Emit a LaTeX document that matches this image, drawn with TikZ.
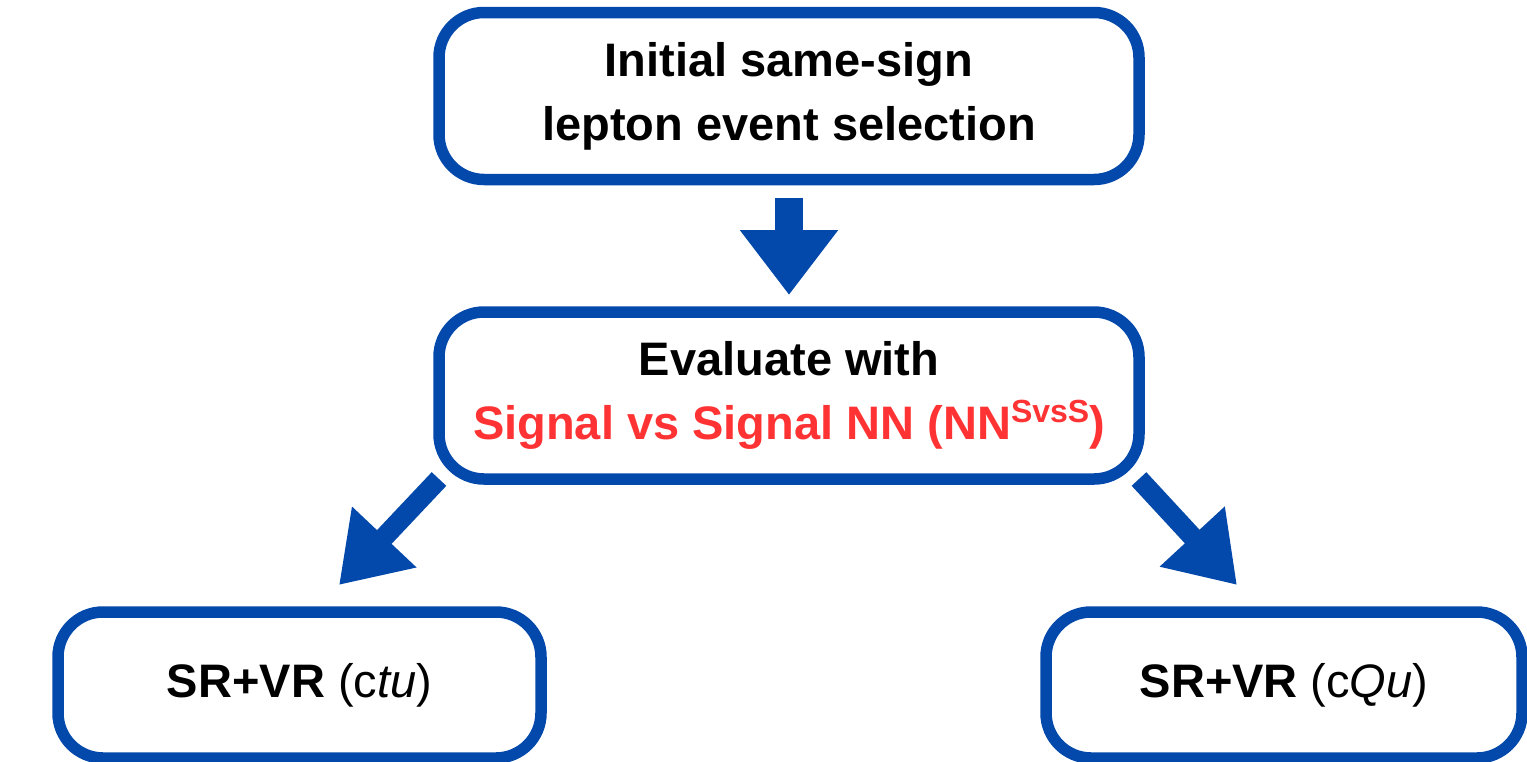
\documentclass[tikz,border=0pt]{standalone}
\usepackage{fontspec}
\setmainfont{Liberation Sans}
\usetikzlibrary{arrows.meta}
\definecolor{flowblue}{RGB}{3,72,171}
\definecolor{nnred}{RGB}{255,51,51}

\begin{document}
\begin{tikzpicture}[x=1pt,y=-1pt,
  stage/.style={draw=flowblue, line width=11.5pt, rounded corners=45pt,
    inner sep=0pt, outer sep=0pt, align=center,
    font=\fontsize{47}{64}\selectfont\bfseries},
  bigarrow/.style={draw=flowblue, line width=28pt,
    -{Triangle[length=65pt,width=94pt]}},
  diagarrow/.style={draw=flowblue, line width=20pt,
    -{Triangle[length=66pt,width=84pt]}}]
\useasboundingbox (0,0) rectangle (1527,761);

% stages of the selection flow
\node[stage, minimum width=700pt, minimum height=167pt] (init) at (789,96)
  {Initial same-sign\\lepton event selection};
\node[stage, minimum width=700pt, minimum height=167pt] (eval) at (789,395.5)
  {Evaluate with\\\textcolor{nnred}{Signal vs Signal NN (NN\raisebox{0.36em}{\fontsize{32}{32}\selectfont SvsS})}};
\node[stage, minimum width=483pt, minimum height=146pt] (ctu) at (299.5,685)
  {SR+VR \mdseries(c\textit{tu})};
\node[stage, minimum width=476pt, minimum height=146pt] (cqu) at (1284,685)
  {SR+VR \mdseries(c\textit{Qu})};

% arrow tips of the two branches
\coordinate (ltip) at (339,585);
\coordinate (rtip) at (1237,585);

% connectors
\draw[bigarrow, shorten <=18pt, shorten >=17pt] (init.south) -- (eval.north);
\draw[diagarrow] (eval.south west) -- (ltip);
\draw[diagarrow] (eval.south east) -- (rtip);
\end{tikzpicture}
\end{document}
